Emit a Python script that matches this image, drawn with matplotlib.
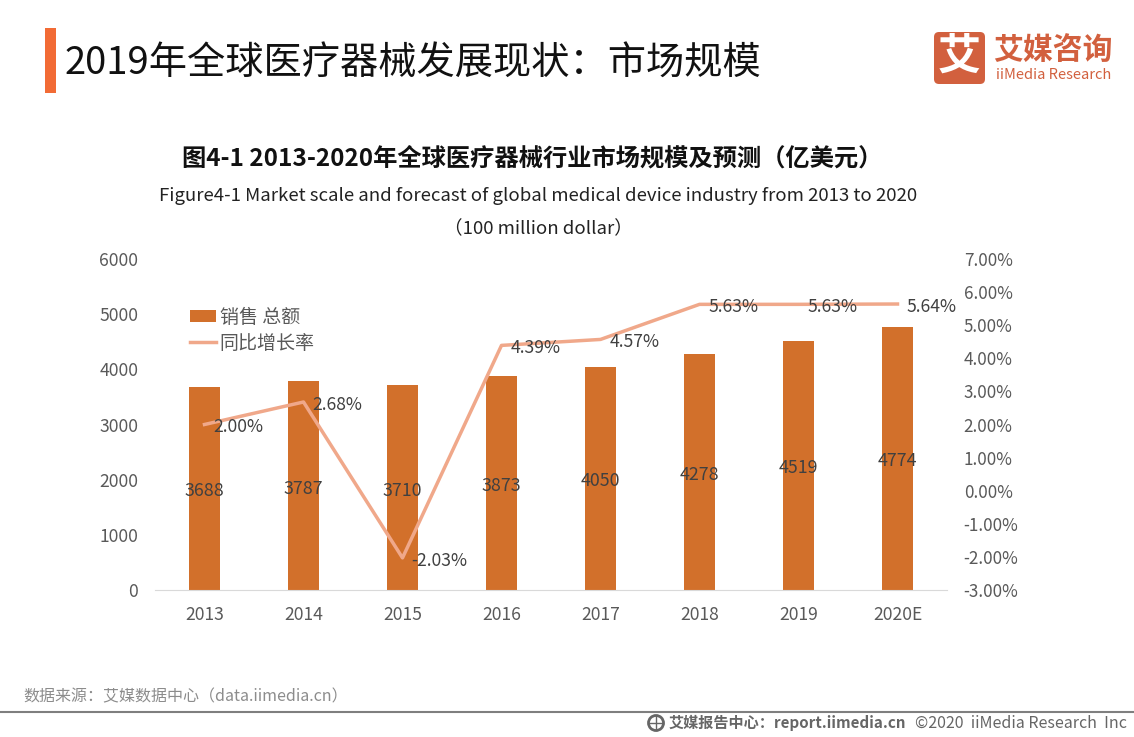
"""
2019 global medical device market size chart, iiMedia style.
"""
import matplotlib
matplotlib.use("Agg")
import matplotlib.pyplot as plt
from matplotlib.patches import FancyBboxPatch, Rectangle, Circle

plt.rcParams["font.family"] = ["Noto Sans CJK SC", "DejaVu Sans"]

years = ["2013", "2014", "2015", "2016", "2017", "2018", "2019", "2020E"]
sales = [3688, 3787, 3710, 3873, 4050, 4278, 4519, 4774]
growth = [2.00, 2.68, -2.03, 4.39, 4.57, 5.63, 5.63, 5.64]
growth_labels = ["2.00%", "2.68%", "-2.03%", "4.39%", "4.57%", "5.63%", "5.63%", "5.64%"]
left_ticks = [0, 1000, 2000, 3000, 4000, 5000, 6000]
right_ticks = [-3, -2, -1, 0, 1, 2, 3, 4, 5, 6, 7]

BAR = "#D2702B"
LINE = "#F0A88A"
GREY = "#595959"
DARK = "#404040"
LOGO = "#D2603E"
W, H = 1134, 737


def px(x, y):
    # pixel coords (top-left origin) to figure fraction
    return x / W, 1 - y / H


fig = plt.figure(figsize=(W / 100, H / 100), dpi=100)

# overlay for header / footer, drawn in pixel coords
bg = fig.add_axes([0, 0, 1, 1])
bg.set_xlim(0, W)
bg.set_ylim(H, 0)
bg.axis("off")

bg.add_patch(Rectangle((45, 28), 10.5, 65, color="#F26B35", lw=0))
bg.text(65, 64, "2019年全球医疗器械发展现状：市场规模", fontsize=27.5, color="#111111",
        va="center", ha="left")

# logo
bg.add_patch(FancyBboxPatch((934, 32), 51, 52, boxstyle="round,pad=0,rounding_size=5",
                            fc=LOGO, ec=LOGO, lw=0))
bg.text(959.5, 57, "艾", fontsize=31, color="white", weight="bold", ha="center", va="center")
bg.text(993, 50, "艾媒咨询", fontsize=21.5, color=LOGO, weight="bold", ha="left", va="center")
bg.text(996, 75, "iiMedia Research", fontsize=10.5, color=LOGO, weight="medium",
        ha="left", va="center")

# titles
bg.text(532, 158, "图4-1 2013-2020年全球医疗器械行业市场规模及预测（亿美元）", fontsize=17.5,
        weight="bold", color="#111111", ha="center", va="center")
bg.text(538, 196, "Figure4-1 Market scale and forecast of global medical device industry from 2013 to 2020",
        fontsize=13.4, color="#222222", ha="center", va="center")
bg.text(538, 229, "（100 million dollar）", fontsize=13.4, color="#222222", ha="center", va="center")

# footer
bg.text(23, 697, "数据来源：艾媒数据中心（data.iimedia.cn）", fontsize=11.5, color="#8C8C8C",
        ha="left", va="center")
bg.plot([0, W], [712, 712], color="#7F7F7F", lw=1.5)
bg.add_patch(Circle((656, 723), 7.5, fc="none", ec="#666666", lw=2))
bg.plot([649, 663], [723, 723], color="#666666", lw=1)
bg.plot([656, 656], [716, 730], color="#666666", lw=1)
bg.text(669, 723, "艾媒报告中心：report.iimedia.cn", fontsize=10.9, color="#666666",
        weight="bold", ha="left", va="center")
bg.text(915, 723, "©2020  iiMedia Research  Inc", fontsize=11.5, color="#666666",
        weight="medium", ha="left", va="center")

# main chart
x0, y_top = px(155, 259)
x1, y_bot = px(947, 590)
ax = fig.add_axes([x0, y_bot, x1 - x0, y_top - y_bot])
ax.patch.set_alpha(0)
xs = list(range(len(years)))
bars = ax.bar(xs, sales, width=0.315, color=BAR, zorder=2)
ax.set_xlim(-0.5, 7.5)
ax.set_ylim(0, 6000)
ax.set_xticks(xs)
ax.set_xticklabels(years)
ax.set_yticks(left_ticks)
ax.tick_params(axis="both", length=0, labelsize=12.6, labelcolor=GREY)
ax.tick_params(axis="x", pad=11.5)
ax.tick_params(axis="y", pad=12)
for name in ["top", "left", "right"]:
    ax.spines[name].set_visible(False)
ax.spines["bottom"].set_color("#D9D9D9")

ax2 = ax.twinx()
ax2.patch.set_alpha(0)
line, = ax2.plot(xs, growth, color=LINE, lw=2.5, zorder=3)
ax2.set_ylim(-3, 7)
ax2.set_yticks(right_ticks)
ax2.set_yticklabels([f"{t:.2f}%" for t in right_ticks])
ax2.tick_params(axis="y", length=0, labelsize=12.3, labelcolor=GREY, pad=12)
for spine in ax2.spines.values():
    spine.set_visible(False)

# value labels
for x, v in zip(xs, sales):
    ax2.annotate(str(v), (x, (v / 2) / 600 - 3), xytext=(0, -3), textcoords="offset pixels",
                 ha="center", va="center", fontsize=12.8, color=DARK, zorder=5)
for x, g, lab in zip(xs, growth, growth_labels):
    ax2.annotate(lab, (x, g), xytext=(9, -3), textcoords="offset pixels", ha="left",
                 va="center", fontsize=12.6, color=DARK, zorder=5)

fig.legend([bars, line], ["销售 总额", "同比增长率"], loc="upper left",
           bbox_to_anchor=px(190, 307), frameon=False, fontsize=13.7,
           labelcolor=GREY, handlelength=1.37, handleheight=0.58, labelspacing=0.25,
           handletextpad=0.2, borderaxespad=0, borderpad=0)

fig.savefig("out.png", dpi=100)
